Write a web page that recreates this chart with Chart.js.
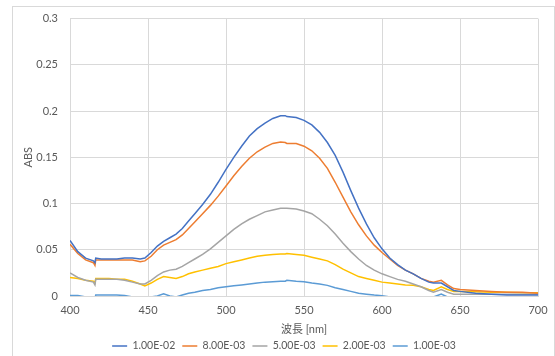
<!DOCTYPE html>
<html>
<head>
<meta charset="utf-8">
<script src="https://cdn.jsdelivr.net/npm/chart.js@4/dist/chart.umd.min.js"></script>
<style>
  body { margin: 0; background: #fff; }
  canvas { display: block; }
</style>
</head>
<body>
<canvas id="absChart" width="555" height="356"></canvas>
<script>
// Wellenlängen [nm]
const wavelengths = [400, 405, 410, 415, 416, 416.5, 420, 425, 430, 435, 440, 445, 448, 452, 456, 460, 464, 468, 472, 476,
    480, 485, 490, 495, 500, 505, 510, 515, 520, 525, 530, 535, 538, 539, 545, 550, 555, 560, 565, 570,
    575, 580, 585, 590, 595, 600, 605, 610, 615, 620, 625, 630, 633, 638, 642, 646, 650, 660, 670, 680, 690, 700];

const abs1e2 = [0.060, 0.048, 0.041, 0.038, 0.036, 0.041, 0.040, 0.040, 0.040, 0.041, 0.041, 0.040, 0.041, 0.047, 0.054, 0.059, 0.063, 0.067, 0.073, 0.081,
    0.089, 0.099, 0.110, 0.123, 0.137, 0.150, 0.162, 0.173, 0.181, 0.187, 0.192, 0.195, 0.195, 0.194, 0.193, 0.190, 0.185, 0.177, 0.166, 0.152,
    0.134, 0.114, 0.095, 0.078, 0.063, 0.051, 0.041, 0.034, 0.028, 0.024, 0.019, 0.015, 0.014, 0.014, 0.010, 0.006, 0.005, 0.003, 0.002, 0.001, 0.001, 0.001];

const abs8e3 = [0.056, 0.046, 0.039, 0.036, 0.033, 0.039, 0.039, 0.039, 0.039, 0.039, 0.039, 0.037, 0.038, 0.043, 0.050, 0.055, 0.058, 0.061, 0.066, 0.073,
    0.080, 0.089, 0.098, 0.108, 0.119, 0.130, 0.140, 0.149, 0.156, 0.161, 0.165, 0.1665, 0.166, 0.165, 0.165, 0.162, 0.157, 0.149, 0.138, 0.123,
    0.107, 0.091, 0.077, 0.065, 0.055, 0.047, 0.040, 0.033, 0.028, 0.024, 0.019, 0.016, 0.015, 0.017, 0.012, 0.008, 0.007, 0.006, 0.005, 0.004, 0.004, 0.003];

const abs5e3 = [0.025, 0.020, 0.017, 0.015, 0.012, 0.018, 0.018, 0.018, 0.018, 0.017, 0.015, 0.013, 0.013, 0.017, 0.022, 0.026, 0.028, 0.029, 0.032, 0.036,
    0.040, 0.045, 0.051, 0.058, 0.065, 0.072, 0.078, 0.083, 0.087, 0.091, 0.093, 0.095, 0.095, 0.095, 0.094, 0.092, 0.089, 0.083, 0.076, 0.067,
    0.057, 0.048, 0.040, 0.033, 0.028, 0.024, 0.021, 0.018, 0.016, 0.013, 0.010, 0.006, 0.004, 0.007, 0.004, 0.002, 0.002, 0.002, 0.002, 0.002, 0.002, 0.002];

const abs2e3 = [0.020, 0.019, 0.017, 0.016, 0.014, 0.019, 0.019, 0.019, 0.018, 0.018, 0.016, 0.013, 0.011, 0.014, 0.018, 0.021, 0.020, 0.019, 0.021, 0.024,
    0.026, 0.028, 0.030, 0.032, 0.035, 0.037, 0.039, 0.041, 0.043, 0.044, 0.045, 0.0455, 0.0455, 0.046, 0.045, 0.044, 0.042, 0.040, 0.038, 0.034,
    0.029, 0.025, 0.021, 0.019, 0.017, 0.015, 0.014, 0.013, 0.012, 0.0115, 0.010, 0.007, 0.006, 0.010, 0.007, 0.005, 0.005, 0.0045, 0.004, 0.004, 0.0035, 0.0035];

const abs1e3 = [0.0005, 0.0005, -0.001, -0.002, -0.003, 0.001, 0.001, 0.001, 0.001, 0.0005, -0.001, -0.002, -0.003, -0.001, 0.000, 0.0025, 0.000, -0.001, 0.001, 0.003,
    0.004, 0.006, 0.007, 0.009, 0.010, 0.011, 0.012, 0.013, 0.014, 0.015, 0.0155, 0.016, 0.016, 0.017, 0.016, 0.0155, 0.014, 0.013, 0.0115, 0.009,
    0.007, 0.005, 0.003, 0.002, 0.001, 0.0003, -0.001, -0.001, -0.001, -0.001, -0.001, -0.001, -0.001, 0.002, -0.001, -0.001, -0.001, -0.001, -0.001, -0.001, -0.001, -0.001];

const seriesLabels = ['1.00E-02', '8.00E-03', '5.00E-03', '2.00E-03', '1.00E-03'];
const seriesValues = [abs1e2, abs8e3, abs5e3, abs2e3, abs1e3];
const seriesColors = ['#4472C4', '#ED7D31', '#A5A5A5', '#FFC000', '#5B9BD5'];

const xTickLabels = ['400', '450', '500', '550', '600', '650', '700'];
const yTickLabels = ['0', '0.05', '0.1', '0.15', '0.2', '0.25', '0.3'];

const textColor = '#595959';
const gridColor = '#D9D9D9';
const fontFamily = "Lato, 'Noto Sans CJK JP', sans-serif";

// Rahmen um das ganze Diagramm (wie in Excel)
const chartBorder = {
    id: 'chartBorder',
    beforeDraw(chart) {
        const ctx = chart.ctx;
        ctx.save();
        ctx.strokeStyle = gridColor;
        ctx.lineWidth = 1;
        ctx.strokeRect(12.5, 6.5, 542, 400);
        ctx.restore();
    }
};

const datasets = seriesLabels.map((label, i) => ({
    label: label,
    data: wavelengths.map((w, j) => ({ x: w, y: seriesValues[i][j] })),
    borderColor: seriesColors[i],
    backgroundColor: seriesColors[i],
    borderWidth: 1.5,
    pointRadius: 0,
    tension: 0
}));

const ctx = document.getElementById('absChart').getContext('2d');
const absChart = new Chart(ctx, {
    type: 'line',
    data: { datasets: datasets },
    plugins: [chartBorder],
    options: {
        responsive: false,
        animation: false,
        layout: {
            padding: { left: 22, right: 9, top: 17, bottom: -5.25 }
        },
        scales: {
            x: {
                type: 'linear',
                min: 400,
                max: 700,
                grid: { color: gridColor, drawTicks: false },
                border: { color: gridColor },
                ticks: {
                    stepSize: 50,
                    padding: 8,
                    color: textColor,
                    font: { family: fontFamily, size: 11 },
                    callback: (value, index) => xTickLabels[index]
                },
                title: {
                    display: true,
                    text: '波長 [nm]',
                    color: textColor,
                    font: { family: fontFamily, size: 11 },
                    padding: { top: 0, bottom: -2.5 }
                },
                afterFit(scale) {
                    scale.height = 37.75;
                    scale.paddingRight = 17;
                }
            },
            y: {
                min: 0,
                max: 0.3,
                grid: { color: gridColor, drawTicks: false },
                border: { color: gridColor },
                ticks: {
                    stepSize: 0.05,
                    padding: 12,
                    color: textColor,
                    font: { family: fontFamily, size: 11 },
                    callback: (value, index) => yTickLabels[index]
                },
                title: {
                    display: true,
                    text: 'ABS',
                    color: textColor,
                    font: { family: fontFamily, size: 11 },
                    padding: 0
                },
                afterFit(scale) {
                    scale.width = 48;
                }
            }
        },
        plugins: {
            legend: {
                display: true,
                position: 'bottom',
                labels: {
                    usePointStyle: true,
                    pointStyle: 'line',
                    pointStyleWidth: 15,
                    padding: 7,
                    color: textColor,
                    font: { family: fontFamily, size: 10.5 }
                }
            },
            tooltip: { enabled: false }
        }
    }
});
</script>
</body>
</html>
